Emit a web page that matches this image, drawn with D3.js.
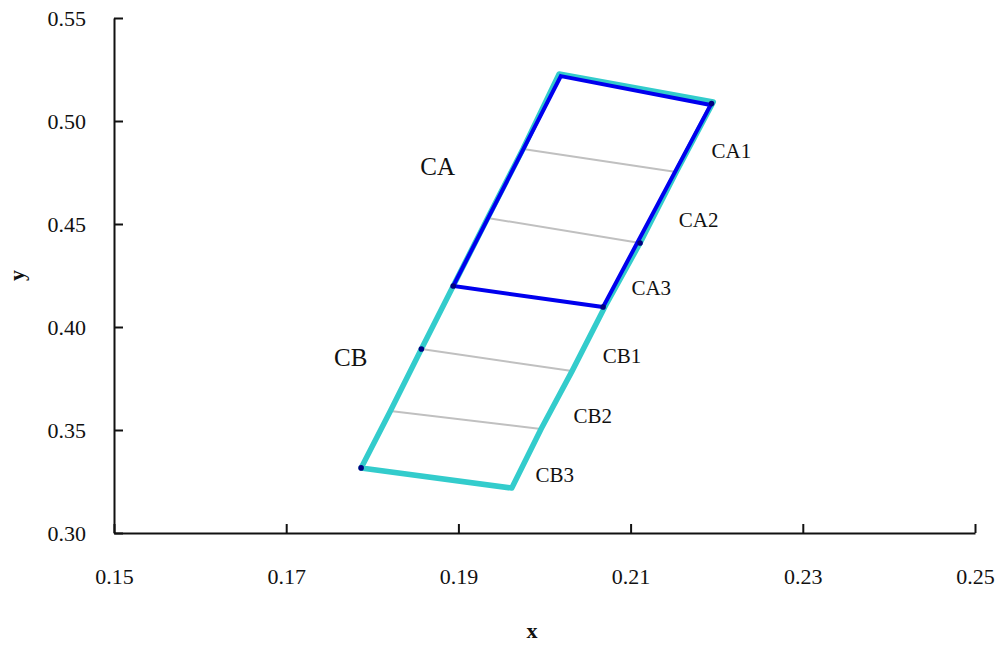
<!DOCTYPE html>
<html lang="en">
<head>
  <meta charset="UTF-8" />
  <title>CA / CB blocks</title>
  <script src="https://d3js.org/d3.v7.min.js"></script>
  <style>
    body { margin: 0; background: white; }
    text { font-family: "Liberation Serif", "DejaVu Serif", serif; fill: #111; }
    .tick text { font-size: 22px; }
    .axis path, .axis line { stroke: #111; stroke-width: 2; }
  </style>
</head>
<body>
  <svg width="1002" height="645"></svg>

  <script>
    // edge nodes of the outer strip, top to bottom
    const leftX  = [0.2017, 0.1975, 0.1934, 0.1894, 0.1857, 0.1821, 0.1787];
    const leftY  = [0.5228, 0.4864, 0.4529, 0.4199, 0.3893, 0.3592, 0.3316];
    const rightX = [0.2196, 0.2153, 0.2111, 0.2070, 0.2032, 0.1996, 0.1962];
    const rightY = [0.5092, 0.4752, 0.4408, 0.4097, 0.3786, 0.3505, 0.3218];

    // CA block outline (corners)
    const caX = [0.2019, 0.2193, 0.2068, 0.1894];
    const caY = [0.5218, 0.5078, 0.4097, 0.4199];

    // marked points
    const dotX = [0.2194, 0.1894, 0.2068, 0.2111, 0.1857, 0.1787];
    const dotY = [0.5085, 0.4199, 0.4097, 0.4408, 0.3893, 0.3316];

    const blockLabels = ["CA", "CB"];
    const blockLabelX = [0.1876, 0.1775];
    const blockLabelY = [0.4777, 0.3850];

    const subLabels = ["CA1", "CA2", "CA3", "CB1", "CB2", "CB3"];
    const subLabelX = [0.2217, 0.2179, 0.2124, 0.2090, 0.2056, 0.2012];
    const subLabelY = [0.4854, 0.4519, 0.4189, 0.3859, 0.3569, 0.3282];

    const xTicks = [0.15, 0.17, 0.19, 0.21, 0.23, 0.25];
    const yTicks = [0.30, 0.35, 0.40, 0.45, 0.50, 0.55];

    const svg = d3.select("svg");
    const m = { left: 114, right: 975, top: 18, bottom: 533 };

    const x = d3.scaleLinear().domain([0.15, 0.25]).range([m.left, m.right]);
    const y = d3.scaleLinear().domain([0.30, 0.55]).range([m.bottom, m.top]);

    // axes, ticks pointing inward
    svg.append("g")
      .attr("class", "axis")
      .attr("transform", `translate(0,${m.bottom})`)
      .call(d3.axisBottom(x).tickValues(xTicks).tickSize(-9).tickPadding(35)
        .tickFormat(d3.format(".2f")).tickSizeOuter(0));

    svg.append("g")
      .attr("class", "axis")
      .attr("transform", `translate(${m.left},0)`)
      .call(d3.axisLeft(y).tickValues(yTicks).tickSize(-9).tickPadding(28)
        .tickFormat(d3.format(".2f")).tickSizeOuter(0));

    svg.append("text")
      .attr("x", 532).attr("y", 638)
      .attr("text-anchor", "middle")
      .attr("font-size", 22).attr("font-weight", "bold")
      .text("x");

    svg.append("text")
      .attr("transform", `translate(24,${(m.top + m.bottom) / 2}) rotate(-90)`)
      .attr("text-anchor", "middle")
      .attr("font-size", 22).attr("font-weight", "bold")
      .text("y");

    const line = d3.line().x(d => x(d[0])).y(d => y(d[1]));
    const plot = svg.append("g");

    // gray dividers
    [1, 2, 4, 5].forEach(i => {
      plot.append("path")
        .attr("d", line([[leftX[i], leftY[i]], [rightX[i], rightY[i]]]))
        .attr("stroke", "#c0c0c0").attr("stroke-width", 2).attr("fill", "none");
    });

    // outer cyan strip
    const outer = leftX.map((v, i) => [v, leftY[i]])
      .concat(rightX.map((v, i) => [v, rightY[i]]).reverse());
    plot.append("path")
      .attr("d", line(outer) + "Z")
      .attr("stroke", "#33cccc").attr("stroke-width", 5.5)
      .attr("stroke-linejoin", "round").attr("fill", "none");

    // CA block in blue
    plot.append("path")
      .attr("d", line(caX.map((v, i) => [v, caY[i]])) + "Z")
      .attr("stroke", "#0000ee").attr("stroke-width", 4)
      .attr("stroke-linejoin", "miter").attr("fill", "none");

    plot.selectAll(".dot")
      .data(dotX.map((v, i) => [v, dotY[i]]))
      .enter().append("circle")
      .attr("cx", d => x(d[0])).attr("cy", d => y(d[1]))
      .attr("r", 2.8).attr("fill", "#000080");

    svg.selectAll(".blabel")
      .data(blockLabels)
      .enter().append("text")
      .attr("x", (d, i) => x(blockLabelX[i])).attr("y", (d, i) => y(blockLabelY[i]))
      .attr("text-anchor", "middle").attr("dominant-baseline", "middle")
      .attr("dy", "0.08em")
      .attr("font-size", 25)
      .text(d => d);

    svg.selectAll(".slabel")
      .data(subLabels)
      .enter().append("text")
      .attr("x", (d, i) => x(subLabelX[i])).attr("y", (d, i) => y(subLabelY[i]))
      .attr("text-anchor", "middle").attr("dominant-baseline", "middle")
      .attr("dy", "0.1em")
      .attr("font-size", 21)
      .text(d => d);
  </script>
</body>
</html>
